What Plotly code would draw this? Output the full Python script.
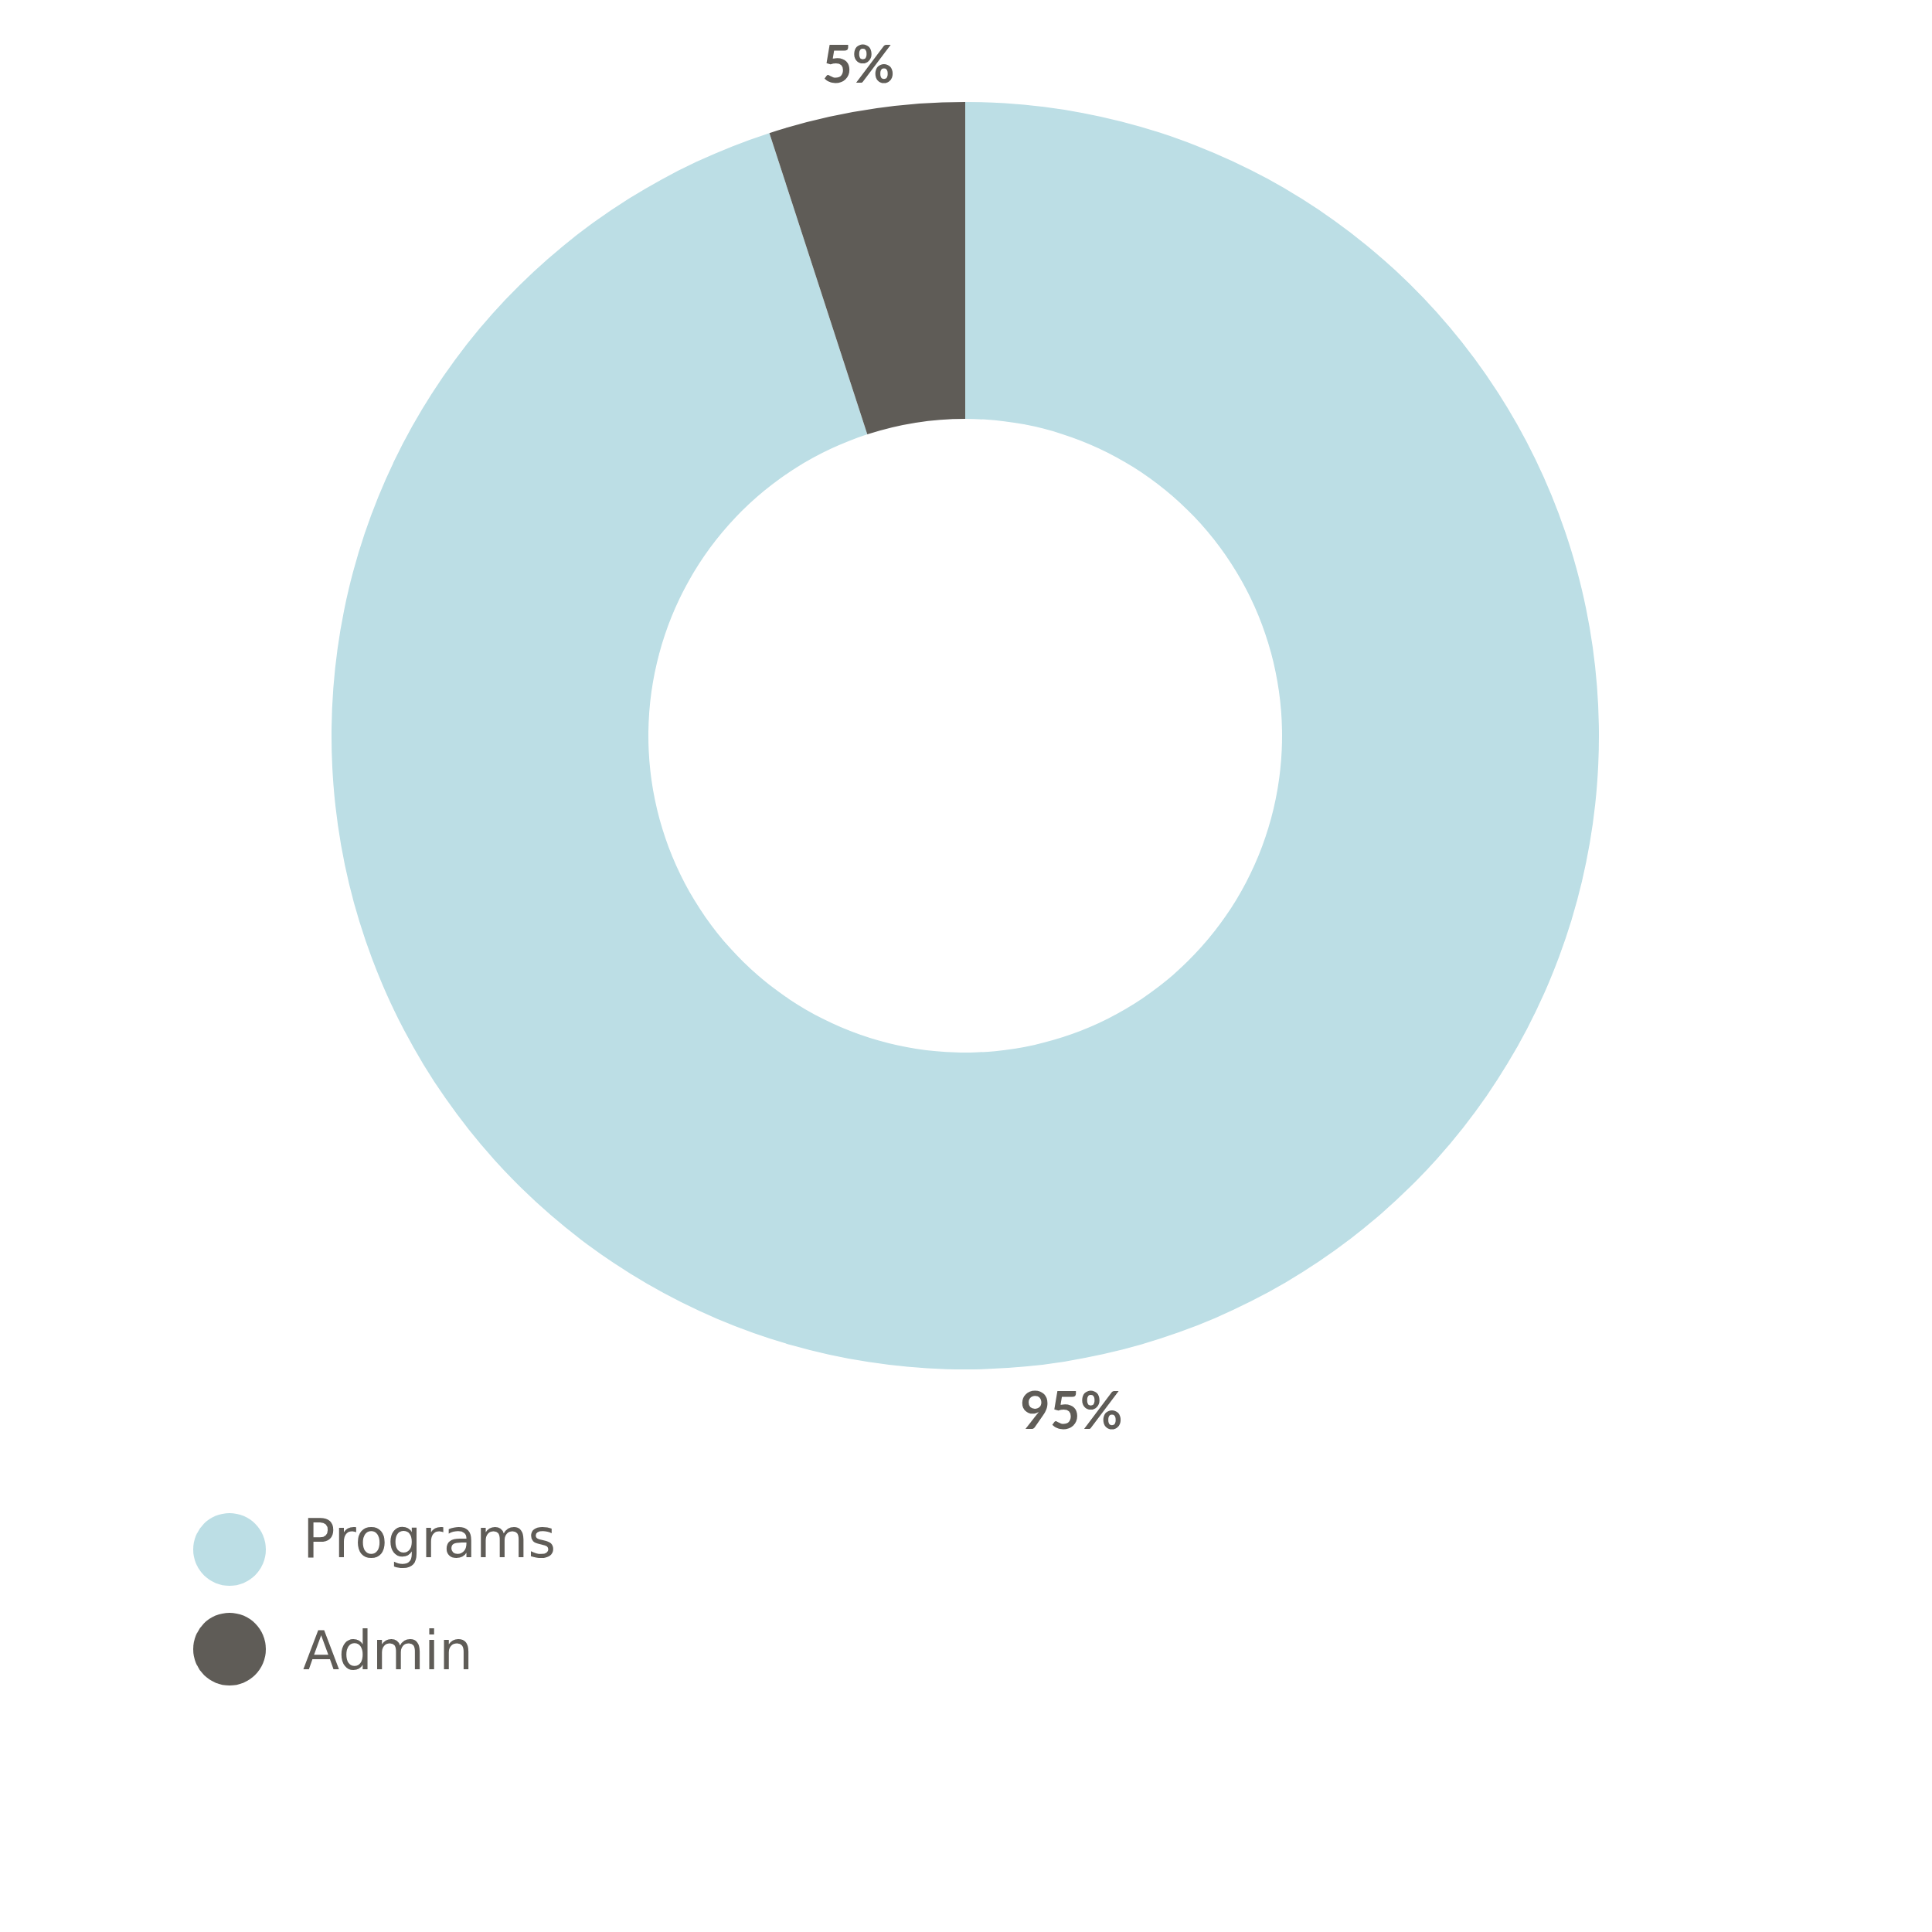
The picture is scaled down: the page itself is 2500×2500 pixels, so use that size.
import math
import plotly.graph_objects as go

categories = ["Programs", "Admin"]
values = [95, 5]
colors = ["#BCDEE5", "#5F5C57"]
text_color = "#5F5C57"

W = H = 2500
cx, cy, R = 1241, 944, 820      # pie centre / radius in figure pixels
label_r = 882                   # radius at which percentage labels sit

fig = go.Figure(go.Pie(
    labels=categories,
    values=values,
    hole=0.5,
    sort=False,
    direction="clockwise",
    rotation=0,
    marker=dict(colors=colors, line=dict(width=0)),
    textinfo="none",
    showlegend=False,
    domain=dict(x=[(cx - R) / W, (cx + R) / W], y=[1 - (cy + R) / H, 1 - (cy - R) / H]),
    hoverinfo="label+percent",
))

annotations = []
shapes = []

# percentage labels outside the ring, at each slice's mid-angle
total = sum(values)
cum = 0
for v in values:
    mid = (cum + v / 2) / total * 2 * math.pi   # clockwise from top
    cum += v
    px = cx + label_r * math.sin(mid)
    py = cy - label_r * math.cos(mid)
    annotations.append(dict(text=f"{round(v / total * 100)}%", xref="paper", yref="paper",
                            x=px / W, y=1 - py / H, xanchor="center", yanchor="middle",
                            showarrow=False,
                            font=dict(family="Lato", size=67, color=text_color, weight="bold")))

# custom legend: circles + labels
leg_x, rad = 289, 47
circle_y = [1997, 2126]
text_y = [1983, 2128]
for name, col, yc, yt in zip(categories, colors, circle_y, text_y):
    shapes.append(dict(type="circle", xref="paper", yref="paper",
                       x0=(leg_x - rad) / W, x1=(leg_x + rad) / W,
                       y0=1 - (yc + rad) / H, y1=1 - (yc - rad) / H,
                       fillcolor=col, line=dict(width=0)))
    annotations.append(dict(text=name, xref="paper", yref="paper",
                            x=382 / W, y=1 - yt / H, xanchor="left", yanchor="middle",
                            showarrow=False,
                            font=dict(family="DejaVu Sans", size=69, color=text_color)))

fig.update_layout(
    width=W, height=H,
    margin=dict(l=0, r=0, t=0, b=0),
    paper_bgcolor="white", plot_bgcolor="white",
    shapes=shapes, annotations=annotations,
)
fig.write_html("out.html")
